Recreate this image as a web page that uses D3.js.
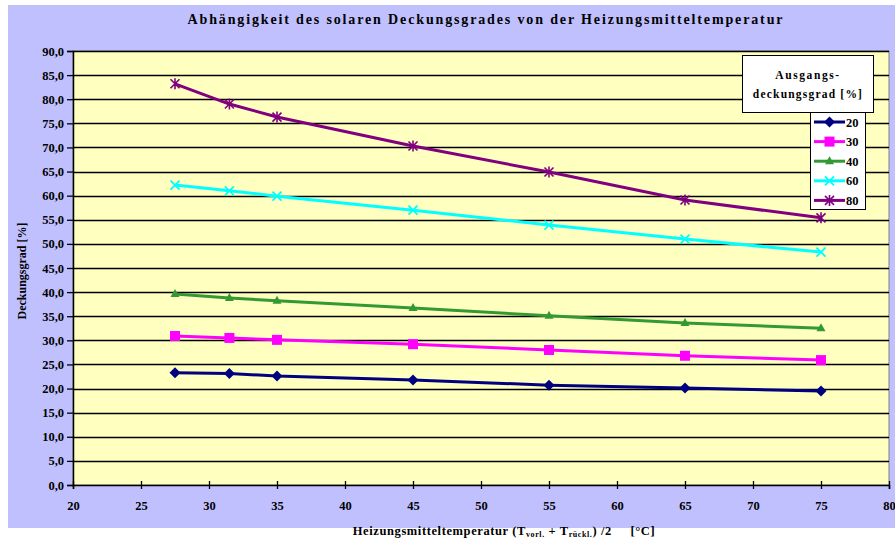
<!DOCTYPE html>
<html>
<head>
<meta charset="utf-8">
<script src="https://cdn.jsdelivr.net/npm/d3@7"></script>
<style>
  html, body { margin: 0; padding: 0; background: #ffffff; }
  svg { display: block; }
  text { font-family: "Liberation Serif", "Times New Roman", serif; font-weight: bold; fill: #000; }
</style>
</head>
<body>
<svg id="chart" width="895" height="539"></svg>
<script>
// Mittlere Heizmitteltemperatur [°C]
const temperatures = [27.5, 31.5, 35, 45, 55, 65, 75];

// Solarer Deckungsgrad [%] je Ausgangsdeckungsgrad
const series20 = [23.3, 23.1, 22.6, 21.8, 20.7, 20.1, 19.5];
const series30 = [30.9, 30.5, 30.1, 29.2, 28.0, 26.8, 25.9];
const series40 = [39.6, 38.8, 38.2, 36.7, 35.1, 33.6, 32.5];
const series60 = [62.2, 61.0, 59.9, 57.0, 53.9, 51.0, 48.3];
const series80 = [83.2, 79.0, 76.3, 70.3, 64.9, 59.1, 55.4];

const seriesNames = ["20", "30", "40", "60", "80"];
const xTicks = [20, 25, 30, 35, 40, 45, 50, 55, 60, 65, 70, 75, 80];
const yTicks = [0, 5, 10, 15, 20, 25, 30, 35, 40, 45, 50, 55, 60, 65, 70, 75, 80, 85, 90];

const series = [
  { name: seriesNames[0], values: series20, color: "#000080", marker: "diamond" },
  { name: seriesNames[1], values: series30, color: "#FF00FF", marker: "square" },
  { name: seriesNames[2], values: series40, color: "#339933", marker: "triangle" },
  { name: seriesNames[3], values: series60, color: "#00FFFF", marker: "cross" },
  { name: seriesNames[4], values: series80, color: "#800080", marker: "star" }
];

const svg = d3.select("#chart");

// chart area
svg.append("rect")
  .attr("x", 8).attr("y", 5).attr("width", 887).attr("height", 523)
  .attr("fill", "#C0C0FF");

const plot = { left: 73, right: 889, top: 51, bottom: 485 };

const x = d3.scaleLinear().domain([20, 80]).range([plot.left, plot.right]);
const y = d3.scaleLinear().domain([0, 90]).range([plot.bottom, plot.top]);

// plot area
svg.append("rect")
  .attr("x", plot.left).attr("y", plot.top)
  .attr("width", plot.right - plot.left).attr("height", plot.bottom - plot.top)
  .attr("fill", "#FFFFC0")
  .attr("stroke", "#808080").attr("stroke-width", 1);

// horizontal grid lines
svg.append("g")
  .selectAll("line")
  .data(yTicks.filter(d => d > 0))
  .join("line")
  .attr("x1", plot.left).attr("x2", plot.right)
  .attr("y1", d => Math.round(y(d)) + 0.5).attr("y2", d => Math.round(y(d)) + 0.5)
  .attr("stroke", "#000").attr("stroke-width", 1.3);

// axes
const fmt = d => d.toFixed(1).replace(".", ",");
const yAxis = svg.append("g")
  .attr("transform", `translate(${plot.left},0)`)
  .call(d3.axisLeft(y).tickValues(yTicks).tickFormat(fmt).tickSize(6).tickPadding(3));
const xAxis = svg.append("g")
  .attr("transform", `translate(0,${plot.bottom})`)
  .call(d3.axisBottom(x).tickValues(xTicks).tickFormat(d3.format("d")).tickSize(4).tickPadding(12));

[yAxis, xAxis].forEach(ax => {
  ax.select(".domain").attr("stroke", "#000").attr("stroke-width", 1.5);
  ax.selectAll(".tick line").attr("stroke", "#000").attr("stroke-width", 1.3);
  ax.selectAll(".tick text")
    .attr("font-family", '"Liberation Serif", serif')
    .attr("font-weight", "bold").attr("font-size", 12.5).attr("fill", "#000");
});
xAxis.selectAll(".tick line").attr("y1", -4);

// lines
const line = d3.line()
  .x((d, i) => x(temperatures[i]))
  .y(d => y(d));

const lineG = svg.append("g");
series.forEach(s => {
  lineG.append("path")
    .datum(s.values)
    .attr("d", line)
    .attr("fill", "none")
    .attr("stroke", s.color)
    .attr("stroke-width", 3);
});

// markers
function drawMarker(g, type, color, cx, cy) {
  const r = 4.5;
  if (type === "diamond") {
    g.append("path")
      .attr("d", `M${cx},${cy - 5.5}L${cx + 5.5},${cy}L${cx},${cy + 5.5}L${cx - 5.5},${cy}Z`)
      .attr("fill", color);
  } else if (type === "square") {
    g.append("rect")
      .attr("x", cx - 5).attr("y", cy - 5).attr("width", 10).attr("height", 10)
      .attr("fill", color);
  } else if (type === "triangle") {
    g.append("path")
      .attr("d", `M${cx},${cy - 5}L${cx + 4.5},${cy + 3}L${cx - 4.5},${cy + 3}Z`)
      .attr("fill", color);
  } else if (type === "cross") {
    g.append("path")
      .attr("d", `M${cx - r},${cy - r}L${cx + r},${cy + r}M${cx - r},${cy + r}L${cx + r},${cy - r}`)
      .attr("stroke", color).attr("stroke-width", 1.8).attr("fill", "none");
  } else if (type === "star") {
    g.append("path")
      .attr("d", `M${cx - r},${cy - r}L${cx + r},${cy + r}M${cx - r},${cy + r}L${cx + r},${cy - r}M${cx},${cy - r - 1}L${cx},${cy + r + 1}`)
      .attr("stroke", color).attr("stroke-width", 1.6).attr("fill", "none");
  }
}

const markG = svg.append("g");
series.forEach(s => {
  s.values.forEach((v, i) => drawMarker(markG, s.marker, s.color, x(temperatures[i]), y(v)));
});

// title
svg.append("text")
  .attr("x", 485).attr("y", 24)
  .attr("text-anchor", "middle")
  .attr("font-size", 14)
  .attr("textLength", 595)
  .attr("lengthAdjust", "spacing")
  .text("Abhängigkeit des solaren Deckungsgrades von der Heizungsmitteltemperatur");

// y axis title
svg.append("text")
  .attr("transform", "translate(26,271) rotate(-90)")
  .attr("text-anchor", "middle")
  .attr("font-size", 12)
  .text("Deckungsgrad [%]");

// x axis title with subscripts
const xt = svg.append("text")
  .attr("x", 504).attr("y", 535)
  .attr("text-anchor", "middle")
  .attr("font-size", 12.5)
  .attr("letter-spacing", 0.6)
  .style("white-space", "pre");
xt.append("tspan").text("Heizungsmitteltemperatur (T");
xt.append("tspan").attr("font-size", 8).attr("dy", 2).text("vorl.");
xt.append("tspan").attr("dy", -2).text(" + T");
xt.append("tspan").attr("font-size", 8).attr("dy", 2).text("rückl.");
xt.append("tspan").attr("dy", -2).text(") /2     [°C]");

// legend title box
const legT = svg.append("g");
legT.append("rect")
  .attr("x", 742.5).attr("y", 55.5).attr("width", 131).attr("height", 57)
  .attr("fill", "#fff").attr("stroke", "#000").attr("stroke-width", 1);
legT.append("text")
  .attr("x", 808).attr("y", 79)
  .attr("text-anchor", "middle").attr("font-size", 11.5).attr("letter-spacing", 1.6)
  .text("Ausgangs-");
legT.append("text")
  .attr("x", 808).attr("y", 98)
  .attr("text-anchor", "middle").attr("font-size", 11.5).attr("letter-spacing", 1.2)
  .text("deckungsgrad [%]");

// legend entries
const leg = svg.append("g");
leg.append("rect")
  .attr("x", 810.5).attr("y", 112.5).attr("width", 55).attr("height", 97)
  .attr("fill", "#fff").attr("stroke", "#000").attr("stroke-width", 1);
series.forEach((s, i) => {
  const cy = 122 + i * 19.6;
  leg.append("line")
    .attr("x1", 814).attr("x2", 845).attr("y1", cy).attr("y2", cy)
    .attr("stroke", s.color).attr("stroke-width", 3);
  drawMarker(leg, s.marker, s.color, 829.5, cy);
  leg.append("text")
    .attr("x", 846).attr("y", cy + 4.5)
    .attr("font-size", 12.5)
    .text(s.name);
});
</script>
</body>
</html>
